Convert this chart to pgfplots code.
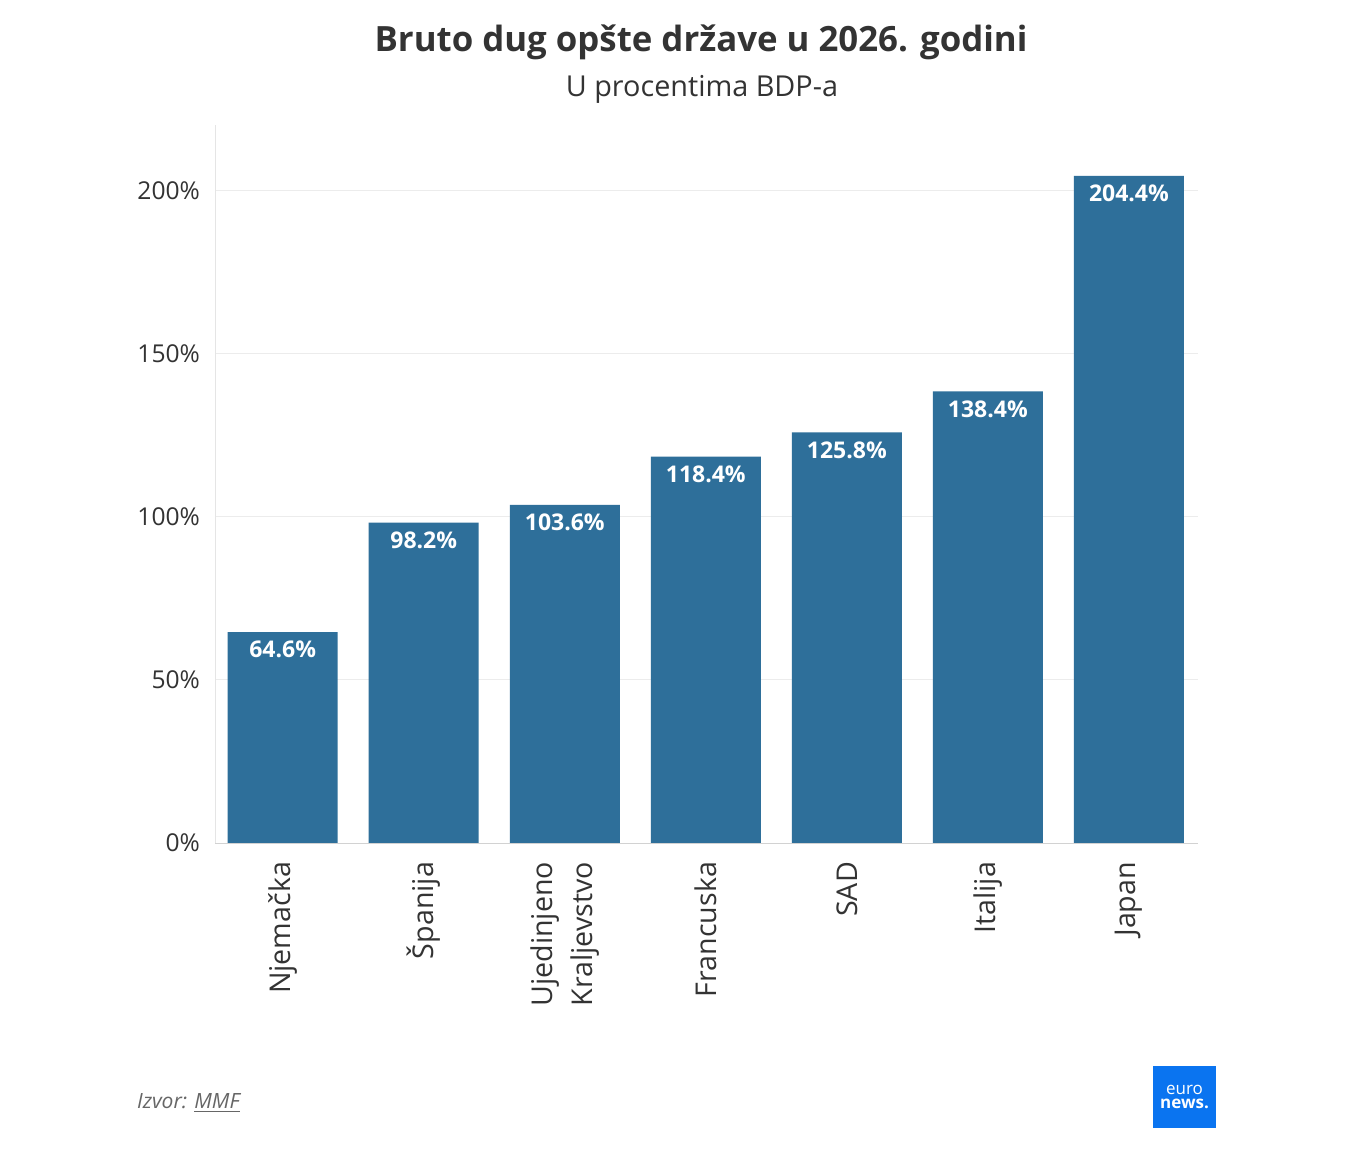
\documentclass[border=0pt]{standalone}
\usepackage{pgfplots}
\pgfplotsset{compat=1.18}
\usepackage{fontspec}
\setmainfont{Open Sans}
\definecolor{barc}{HTML}{2E6F9A}
\definecolor{txt}{HTML}{333333}
\definecolor{enews}{HTML}{0A74F0}
\begin{document}
\begin{tikzpicture}
\path[fill=white] (0,0) rectangle (676.5pt,581pt);
\begin{axis}[
  at={(107.5pt,159.5pt)}, anchor=south west, scale only axis,
  width=491.5pt, height=359pt,
  xmin=-0.48, xmax=6.49, ymin=0, ymax=220,
  ybar, bar width=0.78, bar shift=0pt,
  xtick={0,...,6},
  xticklabels={Njemačka,Španija,{Ujedinjeno\\Kraljevstvo},Francuska,SAD,Italija,Japan},
  xticklabel style={rotate=90, anchor=east, align=center, font=\fontsize{14.3}{20}\selectfont, text=txt},
  xticklabel shift=6pt, yticklabel shift=4pt,
  ytick={0,50,100,150,200},
  yticklabel={\pgfmathprintnumber{\tick}\%},
  yticklabel style={font=\fontsize{12.3}{14}\selectfont, text=txt},
  /pgf/number format/assume math mode=true,
  major tick length=0pt,
  ymajorgrids, grid style={gray!15},
  axis line style={draw=none},
  clip=false,
  nodes near coords={\pgfmathprintnumber[fixed,fixed zerofill,precision=1]{\pgfplotspointmeta}\%},
  nodes near coords style={anchor=north, yshift=-1pt, text=white, font=\bfseries\fontsize{11.5}{12}\selectfont},
]
\draw[gray!20] (axis cs:-0.48,0) -- (axis cs:-0.48,220);
\addplot[fill=barc, draw=none] coordinates {(0,64.6) (1,98.2) (2,103.6) (3,118.4) (4,125.8) (5,138.4) (6,204.4)};
\draw[gray!35] (axis cs:-0.48,0) -- (axis cs:6.49,0);
\end{axis}
\node[text=txt, font=\bfseries\fontsize{17.4}{19}\selectfont] at (350.5pt,560pt) {Bruto dug opšte države u 2026. godini};
\node[text=txt, font=\fontsize{14.4}{16}\selectfont] at (351pt,536.5pt) {U procentima BDP-a};
\node[anchor=west, text=gray!80!black, font=\itshape\fontsize{10.5}{12}\selectfont] at (65pt,29.5pt) {Izvor: \underline{MMF}};
\fill[enews] (576.5pt,17pt) rectangle (608pt,48pt);
\node[text=white, align=center, font=\fontsize{8.5}{7}\selectfont, inner sep=0pt] at (592.25pt,32.5pt) {euro\\\textbf{news.}};
\end{tikzpicture}
\end{document}
